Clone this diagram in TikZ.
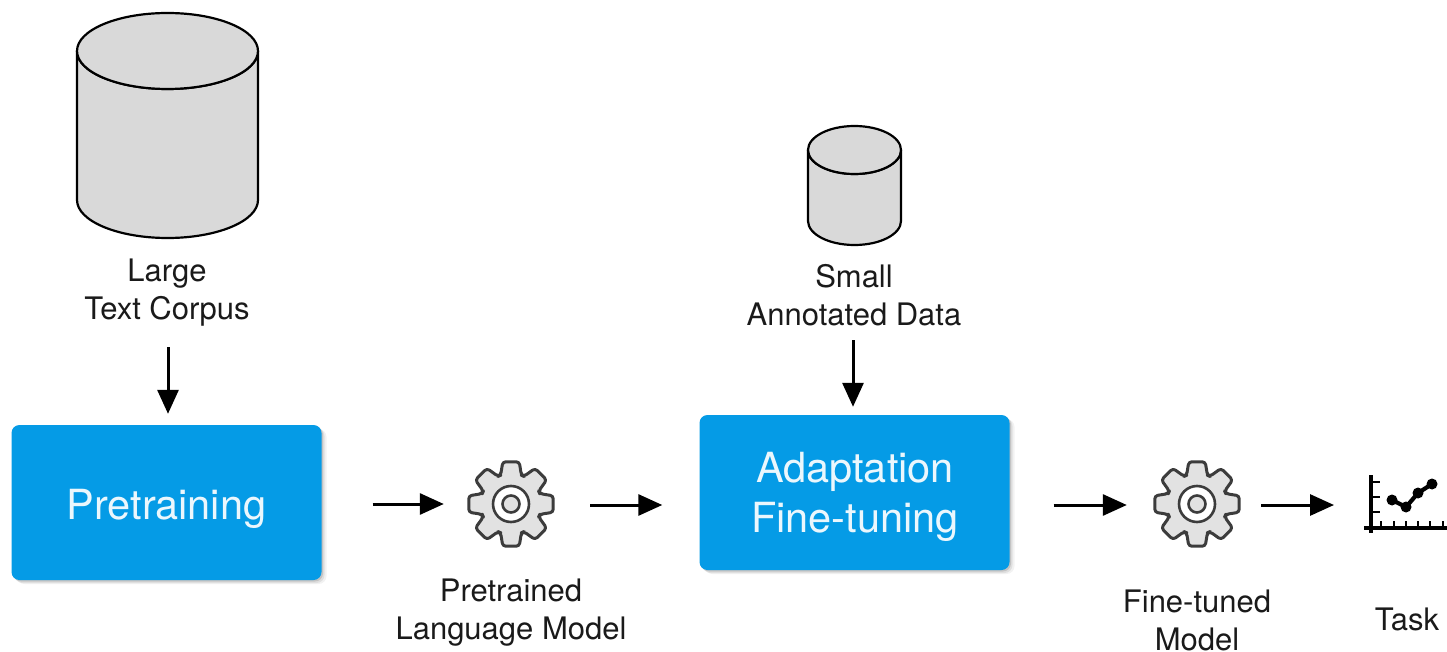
\documentclass[tikz,border=0pt]{standalone}
\usepackage{fontspec}
\setmainfont{TeX Gyre Heros}
\usetikzlibrary{arrows.meta,shadows}
\definecolor{boxblue}{HTML}{059BE6}
\definecolor{cylgray}{HTML}{D9D9D9}
\definecolor{geargray}{HTML}{E2E2E2}
\definecolor{inkdark}{HTML}{1A1A1A}
\tikzset{
  softshadow/.style={
    general shadow={shadow xshift=1.5pt,shadow yshift=-1.5pt,fill=black,opacity=.12},
    general shadow={shadow xshift=3pt,shadow yshift=-3pt,fill=black,opacity=.08},
    general shadow={shadow xshift=5pt,shadow yshift=-4pt,fill=black,opacity=.05}},
  bluebox/.style={softshadow,fill=boxblue,rounded corners=8pt,text=white!92!boxblue,align=center,
    minimum width=310pt,minimum height=155pt,inner sep=0pt},
  boxtext/.style={align=center,text=white!92!boxblue,font=\fontsize{41.5}{50}\selectfont,inner sep=0pt},
  label/.style={align=center,text=inkdark,font=\fontsize{31}{38}\selectfont,inner sep=0pt},
  flow/.style={-{Triangle[length=24pt,width=21pt]},line width=3pt,black},
  ghost/.style={circle,minimum size=86pt,inner sep=0pt},
  cyl/.style={draw=black,line width=2.2pt,fill=cylgray,line join=round},
  gearline/.style={draw=inkdark!85,line width=3pt,line join=round},
  axisline/.style={line width=4pt,black},
  tickline/.style={line width=2.4pt,black},
}
\newcommand{\gearshape}[1]{%
  \begin{scope}[shift={(#1)}]
    \draw[gearline,fill=geargray,rounded corners=3pt]
      (90-11:43) -- (90+11:43) -- (90+20:30.5) -- (90+25:30.5)
      -- (135-11:43) -- (135+11:43) -- (135+20:30.5) -- (135+25:30.5)
      -- (180-11:43) -- (180+11:43) -- (180+20:30.5) -- (180+25:30.5)
      -- (225-11:43) -- (225+11:43) -- (225+20:30.5) -- (225+25:30.5)
      -- (270-11:43) -- (270+11:43) -- (270+20:30.5) -- (270+25:30.5)
      -- (315-11:43) -- (315+11:43) -- (315+20:30.5) -- (315+25:30.5)
      -- (0-11:43) -- (0+11:43) -- (0+20:30.5) -- (0+25:30.5)
      -- (45-11:43) -- (45+11:43) -- (45+20:30.5) -- (45+25:30.5) -- cycle;
    \draw[gearline,line width=2.6pt,fill=white] (0,0) circle (18pt);
    \draw[gearline,line width=2.6pt,fill=geargray] (0,0) circle (8.5pt);
  \end{scope}}
\newcommand{\cylshape}[5]{% cx, top cy, bottom cy, rx, ry
  \draw[cyl] (#1-#4,#2) -- (#1-#4,#3) arc[start angle=180,end angle=360,x radius=#4,y radius=-#5]
     -- (#1+#4,#2) arc[start angle=0,end angle=180,x radius=#4,y radius=#5] -- cycle;
  \draw[cyl] (#1,#2) ellipse[x radius=#4,y radius=#5];}
\begin{document}
\begin{tikzpicture}[x=1pt,y=-1pt]
\useasboundingbox (0,0) rectangle (1447,652);
\cylshape{167.5}{51}{200}{90.5}{38}
\cylshape{854.5}{150}{221}{46.5}{24}
\node[label] (corpus) at (167,292.5) {Large\\Text Corpus};
\node[label] (small) at (854,295) {Small\\Annotated Data};
\node[bluebox] (pre) at (166.5,502.5) {};
\node[boxtext] at (166.5,509) {Pretraining};
\node[bluebox] (adapt) at (854.5,492.5) {};
\node[boxtext] at (855,497) {Adaptation\\Fine-tuning};
\node[ghost] (gearA) at (511,504) {};
\node[ghost] (gearB) at (1197,504) {};
\gearshape{511,504}
\gearshape{1197,504}
\node[label] (ptm) at (511,613) {Pretrained\\Language Model};
\node[label] (ftm) at (1197,620) {Fine-tuned\\Model};
\node[label] (task) at (1407,619) {Task};
\coordinate (chart) at (1371,505);
\coordinate (corpusEnd) at (168,323);
\coordinate (smallEnd) at (853,329);
% chart
\draw[axisline] (1371,475) -- (1371,533);
\draw[axisline] (1364,528) -- (1447,528);
\foreach \ty in {482,497,512} \draw[tickline] (1371,\ty) -- (1380,\ty);
\foreach \tx in {1381,1394,1406,1418,1430,1443} \draw[tickline] (\tx,528) -- (\tx,521);
\draw[line width=4.2pt,black,line join=round] (1392,500) -- (1406,507) -- (1418,493) -- (1432,484);
\foreach \px/\py in {1392/500,1406/507,1418/493,1432/484} \fill[black] (\px,\py) circle (5.5pt);
% connectors
\draw[flow,shorten <=24pt,shorten >=11pt] (corpusEnd) -- (corpusEnd |- pre.north);
\draw[flow,shorten <=11pt,shorten >=8pt] (smallEnd) -- (smallEnd |- adapt.north);
\draw[flow,shorten <=51pt,shorten >=24pt] (pre.east |- gearA) -- (gearA.west);
\draw[flow,shorten <=36pt,shorten >=37pt] (gearA.east |- 0,505) -- (adapt.west |- 0,505);
\draw[flow,shorten <=44pt,shorten >=27pt] (adapt.east |- 0,505) -- (gearB.west |- 0,505);
\draw[flow,shorten <=21pt,shorten >=37pt] (gearB.east |- 0,505) -- (chart |- 0,505);
\end{tikzpicture}
\end{document}
